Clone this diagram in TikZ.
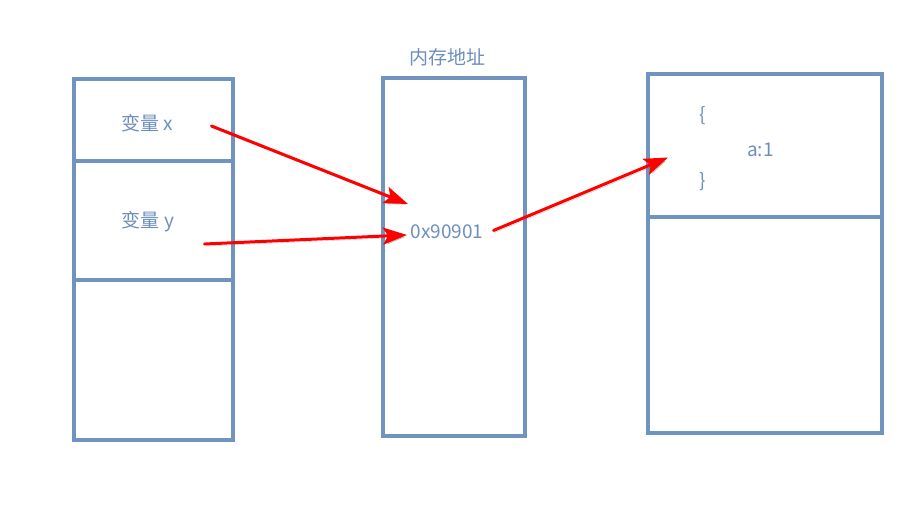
\documentclass[tikz,border=0pt]{standalone}
\usepackage{fontspec}
\newfontfamily\cjk{Noto Sans CJK SC}
\usetikzlibrary{arrows.meta}
\definecolor{boxblue}{RGB}{112,147,192}
\definecolor{txtblue}{RGB}{108,142,190}
\begin{document}
\begin{tikzpicture}[x=1pt, y=-1pt, >={Stealth[length=24pt,width=17pt,inset=5pt]},
  every node/.style={font=\cjk\fontsize{19}{22}\selectfont, text=txtblue},
  cell/.style={draw=boxblue, line width=4pt, inner sep=0pt, outer sep=0pt},
  link/.style={->, red, line width=3pt, line cap=round,
    preaction={draw=black!60, opacity=0.35, transform canvas={shift={(1.5pt,-2pt)}}}}]
\useasboundingbox (0,0) rectangle (921,522);
\node[cell, minimum width=159pt, minimum height=82pt] (xcell) at (153.5,120) {};
\node[cell, minimum width=159pt, minimum height=119pt] (ycell) at (153.5,220.5) {};
\node[cell, minimum width=159pt, minimum height=160pt] (freecell) at (153.5,360) {};
\node[cell, minimum width=142pt, minimum height=358pt] (addr) at (454,256.5) {};
\node[cell, minimum width=234pt, minimum height=143pt] (obj) at (765,145) {};
\node[cell, minimum width=234pt, minimum height=216pt] (heap) at (765,325) {};

\node (addrtitle) at (447,57) {内存地址};
\node (varx) at (147,123) {变量 x};
\node (vary) at (148,222) {变量 y};
\node (ptr) at (447,231.5) {0x90901};
\node (lbrace) at (702.5,116) {\{};
\node (prop) at (760.5,149.5) {a:1};
\node (rbrace) at (702.5,181.5) {\}};

\coordinate (xfrom) at (211.5,126);
\coordinate (xto) at (408,204);
\coordinate (yfrom) at (204.5,244);
\coordinate (yto) at (407,235);
\coordinate (pfrom) at (493.5,230.5);
\coordinate (pto) at (668,157.5);

\draw[link] (xfrom) -- (xto);
\draw[link] (yfrom) -- (yto);
\draw[link] (pfrom) -- (pto);
\end{tikzpicture}
\end{document}
